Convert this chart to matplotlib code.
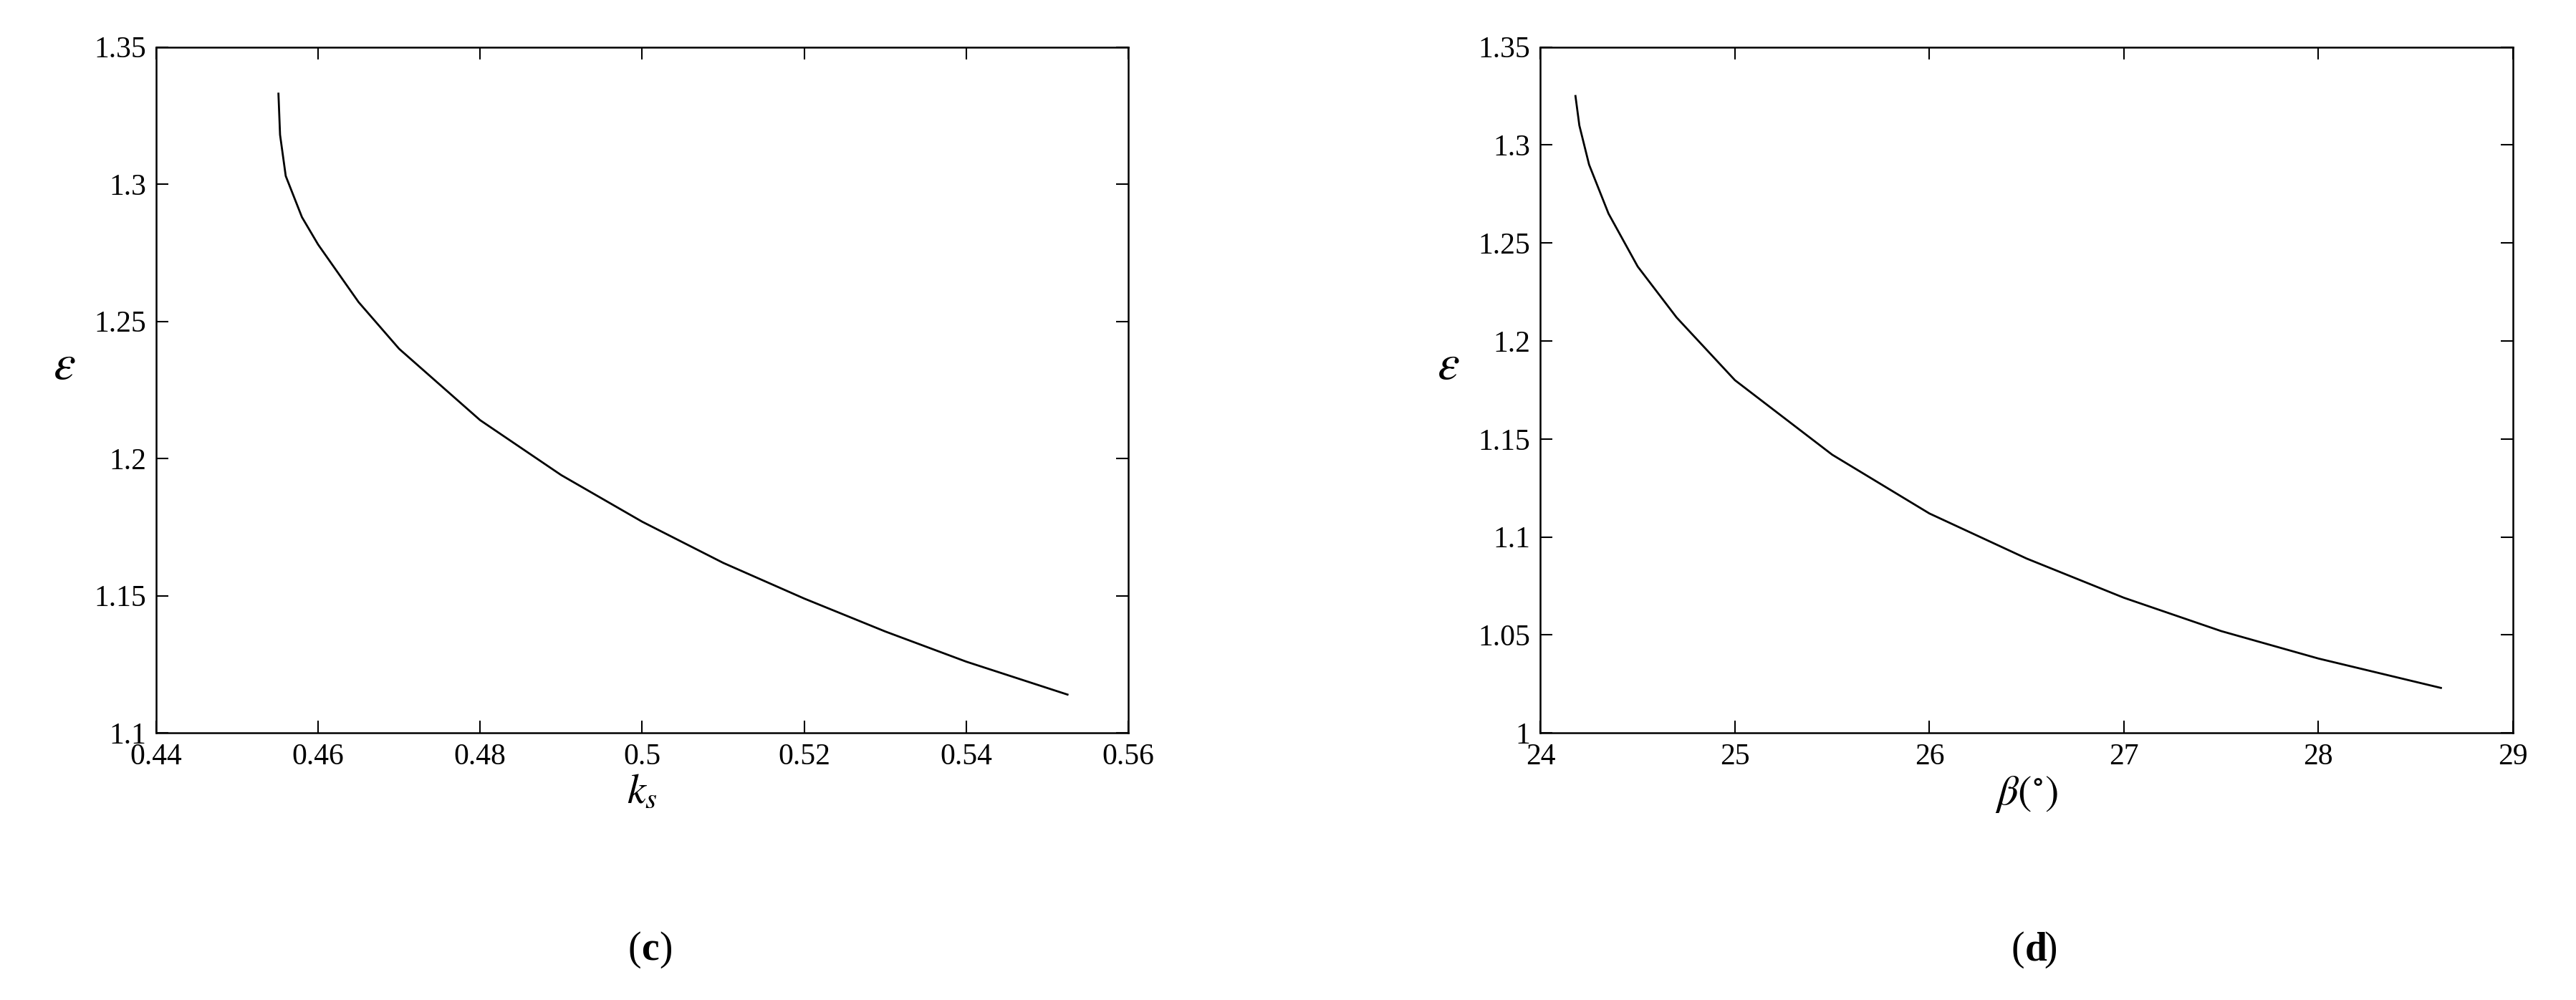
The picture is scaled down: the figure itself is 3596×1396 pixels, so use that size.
import matplotlib
matplotlib.use("Agg")
import matplotlib.pyplot as plt

ks = [0.4551, 0.4553, 0.456, 0.458, 0.46, 0.465, 0.47, 0.48, 0.49, 0.50, 0.51, 0.52, 0.53, 0.54, 0.5525]
eps_c = [1.333, 1.318, 1.303, 1.288, 1.278, 1.257, 1.240, 1.214, 1.194, 1.177, 1.162, 1.149, 1.137, 1.126, 1.114]
beta = [24.18, 24.2, 24.25, 24.35, 24.5, 24.7, 25.0, 25.5, 26.0, 26.5, 27.0, 27.5, 28.0, 28.63]
eps_d = [1.325, 1.31, 1.29, 1.265, 1.238, 1.212, 1.180, 1.142, 1.112, 1.089, 1.069, 1.052, 1.038, 1.023]

plt.rcParams['font.family'] = ['Liberation Serif', 'DejaVu Serif']
plt.rcParams['mathtext.fontset'] = 'stix'
fig = plt.figure(figsize=(35.96, 13.96), dpi=100)
fs = 30

def setup(ax):
    ax.tick_params(direction='in', length=12, width=1.5, labelsize=fs, top=True, right=True, pad=10)
    for s in ax.spines.values():
        s.set_linewidth(1.8)

ax1 = fig.add_axes([0.0606, 0.267, 0.3774, 0.686])
ax1.plot(ks, eps_c, color='black', lw=2)
ax1.set_xlim(0.44, 0.56); ax1.set_ylim(1.1, 1.35)
ax1.set_xticks([0.44, 0.46, 0.48, 0.5, 0.52, 0.54, 0.56])
ax1.set_xticklabels(['0.44', '0.46', '0.48', '0.5', '0.52', '0.54', '0.56'])
ax1.set_yticks([1.1, 1.15, 1.2, 1.25, 1.3, 1.35])
ax1.set_yticklabels(['1.1', '1.15', '1.2', '1.25', '1.3', '1.35'])
ax1.set_xlabel(r'$k_s$', fontsize=42)
ax1.set_ylabel(r'$\varepsilon$', fontsize=50, rotation=0, labelpad=30)
setup(ax1)

ax2 = fig.add_axes([0.598, 0.267, 0.3775, 0.686])
ax2.plot(beta, eps_d, color='black', lw=2)
ax2.set_xlim(24, 29); ax2.set_ylim(1.0, 1.35)
ax2.set_yticks([1.0, 1.05, 1.1, 1.15, 1.2, 1.25, 1.3, 1.35])
ax2.set_yticklabels(['1', '1.05', '1.1', '1.15', '1.2', '1.25', '1.3', '1.35'])
ax2.set_xlabel(r'$\beta\left(^{\circ}\right)$', fontsize=42)
ax2.set_ylabel(r'$\varepsilon$', fontsize=50, rotation=0, labelpad=30)
setup(ax2)

fig.text(0.249, 0.05, '(', fontsize=40, ha='right', va='center')
fig.text(0.249, 0.05, 'c', fontsize=40, ha='left', va='center', fontweight='bold')
fig.text(0.256, 0.05, ')', fontsize=40, ha='left', va='center')
fig.text(0.786, 0.05, '(', fontsize=40, ha='right', va='center')
fig.text(0.786, 0.05, 'd', fontsize=40, ha='left', va='center', fontweight='bold')
fig.text(0.7935, 0.05, ')', fontsize=40, ha='left', va='center')

fig.savefig('out.png', dpi=100)
